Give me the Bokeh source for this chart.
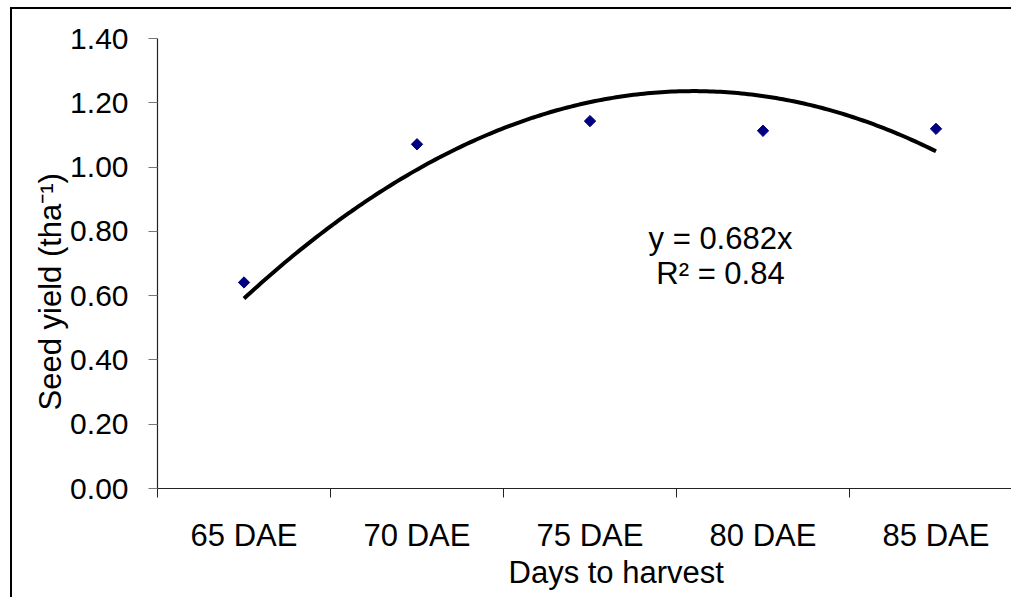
import numpy as np
from bokeh.plotting import figure
from bokeh.models import (FixedTicker, NumeralTickFormatter, Label, Title,
                          Range1d, ColumnDataSource)
from bokeh.embed import file_html
from bokeh.resources import INLINE

# ---- data ----
categories = ["65 DAE", "70 DAE", "75 DAE", "80 DAE", "85 DAE"]
seed_yield = [0.641, 1.071, 1.143, 1.113, 1.119]
# trendline (2nd order polynomial) values read at the 1st, 3rd and 5th category
trend_pos = [1, 3, 5]
trend_val = [0.591, 1.202, 1.049]
y_ticks = [0.0, 0.2, 0.4, 0.6, 0.8, 1.0, 1.2, 1.4]
equation_text = "y = 0.682x"
r2_text = "R² = 0.84"
x_title = "Days to harvest"
y_title = "Seed yield (tha⁻¹)"

FONT = "Liberation Sans"
FS = "31px"

W, H = 1011, 597
FL, FT, FB = 157, 38, 488   # frame left/top/bottom in canvas px

p = figure(width=W, height=H, output_backend="svg", toolbar_location=None,
           min_border_left=FL, min_border_top=FT, min_border_bottom=H - FB,
           min_border_right=0, background_fill_color=None,
           border_fill_color=None)
p.outline_line_color = None
p.grid.visible = False

# outer chart border (drawn behind the transparent canvas)
p.styles = {
    "background-color": "white",
    "background-image": "linear-gradient(black, black), linear-gradient(black, black)",
    "background-size": "2px 590px, 1001px 2px",
    "background-position": "10px 7px, 10px 7px",
    "background-repeat": "no-repeat, no-repeat",
}

pos = list(range(1, len(categories) + 1))
cat_w = 173.0
p.x_range = Range1d(0.5, 0.5 + (W - FL) / cat_w)
p.y_range = Range1d(0, 1.4)

# x axis: labels at category centres, separator ticks between categories
p.xaxis.ticker = FixedTicker(ticks=pos, minor_ticks=[x - 0.5 for x in pos])
p.xaxis.major_label_overrides = {x: c for x, c in zip(pos, categories)}
p.xaxis.major_tick_out = 0
p.xaxis.major_tick_in = 0
p.xaxis.minor_tick_out = 9
p.xaxis.minor_tick_in = 0
p.xaxis.minor_tick_line_color = "#222222"
p.xaxis.major_label_standoff = 20

p.yaxis.ticker = FixedTicker(ticks=y_ticks)
p.yaxis.formatter = NumeralTickFormatter(format="0.00")
p.yaxis.major_tick_out = 9
p.yaxis.major_tick_in = 0
p.yaxis.minor_tick_out = 0
p.yaxis.minor_tick_in = 0
p.yaxis.major_tick_line_color = "#777777"
p.yaxis.major_label_standoff = 20

for ax in (p.xaxis, p.yaxis):
    ax.axis_line_color = "#222222"
    ax.axis_line_width = 1.2
    ax.major_label_text_font = FONT
    ax.major_label_text_font_size = FS
    ax.major_label_text_color = "black"
p.yaxis.major_label_text_font_size = "30px"

# axis titles
p.add_layout(Title(text=x_title, align="left", offset=351, standoff=-5,
                   text_font=FONT, text_font_size=FS, text_font_style="normal",
                   text_color="black"), "below")
p.add_layout(Title(text=y_title, align="left", offset=78, standoff=0,
                   text_font=FONT, text_font_size=FS, text_font_style="normal",
                   text_color="black"), "left")

# trendline
coef = np.polyfit(trend_pos, trend_val, 2)
xs = np.linspace(pos[0], pos[-1], 200)
p.line(xs, np.polyval(coef, xs), line_color="black", line_width=4)

# points
src = ColumnDataSource(dict(x=pos, y=seed_yield))
p.scatter("x", "y", source=src, marker="square", angle=np.pi / 4, size=8,
          fill_color="#000080", line_color="#000080")


def lab(text, cx, cy):
    p.add_layout(Label(x=cx - FL, y=FB - cy, x_units="screen", y_units="screen",
                       text=text, text_align="center", text_baseline="middle",
                       text_font=FONT, text_font_size=FS, text_color="black"))


lab(equation_text, 720, 238)
lab(r2_text, 720, 273)

open("out.html", "w").write(file_html(p, INLINE))
